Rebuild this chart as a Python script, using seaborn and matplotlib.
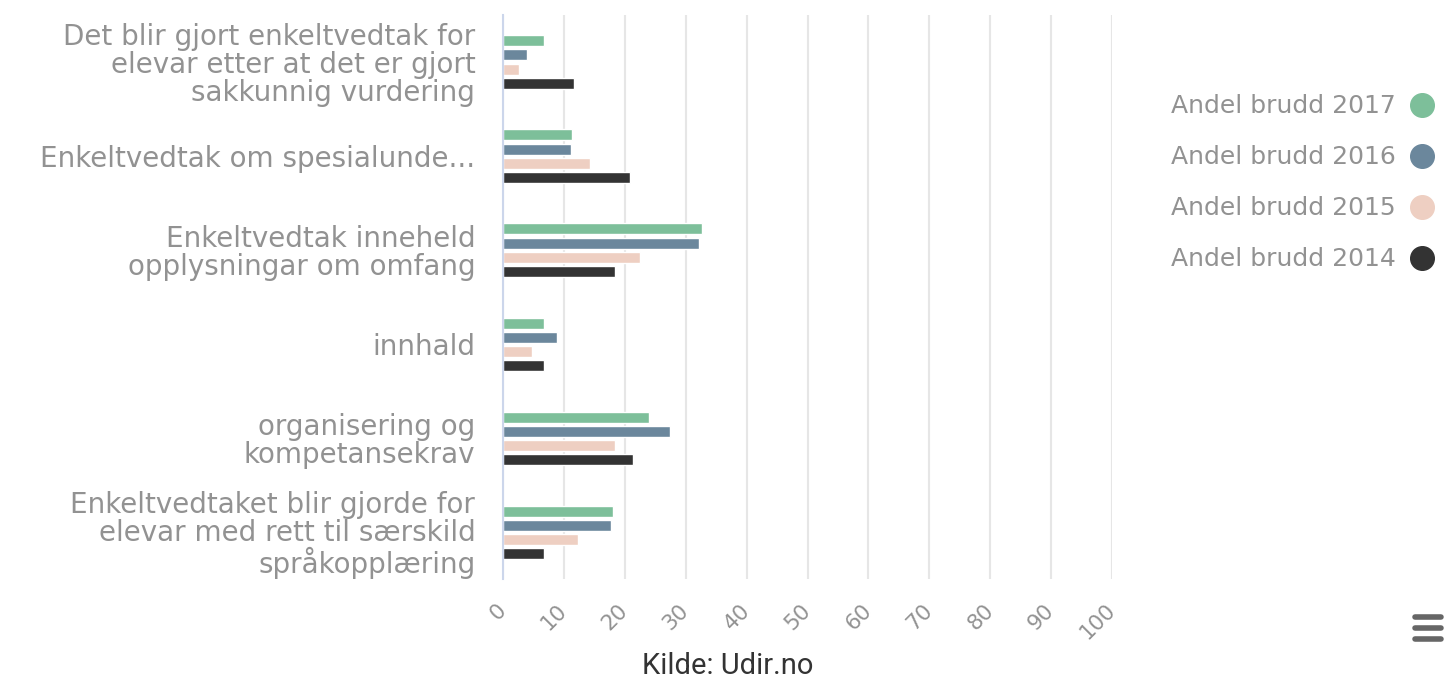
import pandas as pd
import matplotlib.pyplot as plt
import seaborn as sns
from matplotlib.lines import Line2D

# ── Data ─────────────────────────────────────────────────
kategorier = [
    "Det blir gjort enkeltvedtak for\nelevar etter at det er gjort\nsakkunnig vurdering",
    "Enkeltvedtak om spesialunde...",
    "Enkeltvedtak inneheld\nopplysningar om omfang",
    "innhald",
    "organisering og\nkompetansekrav",
    "Enkeltvedtaket blir gjorde for\nelevar med rett til særskild\nspråkopplæring",
]
serier = ["Andel brudd 2017", "Andel brudd 2016", "Andel brudd 2015", "Andel brudd 2014"]
brudd_2017 = [6.8, 11.3, 32.7, 6.8, 23.9, 18.1]
brudd_2016 = [4.0, 11.2, 32.2, 8.9, 27.4, 17.8]
brudd_2015 = [2.6, 14.2, 22.5, 4.8, 18.3, 12.3]
brudd_2014 = [11.7, 20.9, 18.4, 6.8, 21.4, 6.8]
x_ticks = [0, 10, 20, 30, 40, 50, 60, 70, 80, 90, 100]

farger = ["#7dbf9a", "#6b879c", "#eecfc2", "#333333"]
tekstfarge = "#929292"

rows = []
for serie, verdier in zip(serier, [brudd_2017, brudd_2016, brudd_2015, brudd_2014]):
    for kat, v in zip(kategorier, verdier):
        rows.append({"kategori": kat, "serie": serie, "verdi": v})
df = pd.DataFrame(rows)

# ── Figure ───────────────────────────────────────────────
sns.set_style("white")
plt.rcParams["font.family"] = ["DejaVu Sans"]

fig = plt.figure(figsize=(14.56, 6.8), dpi=100)
ax = fig.add_axes([0.3455, 0.148, 0.4183, 0.83])

sns.barplot(
    data=df, y="kategori", x="verdi", hue="serie", orient="h",
    palette=farger, width=0.6, gap=0.22, order=kategorier,
    hue_order=serier, legend=False, ax=ax, saturation=1,
)

ax.set_xlim(0, 100)
ax.set_ylim(5.5, -0.5)
ax.set_xticks(x_ticks)
ax.set_xticklabels([str(t) for t in x_ticks], rotation=45, ha="right",
                   va="center", rotation_mode="anchor", color=tekstfarge,
                   fontsize=15.5)
ax.tick_params(axis="x", length=0, pad=20)
ax.tick_params(axis="y", length=0, pad=20, labelsize=20, labelcolor=tekstfarge)
for lbl in ax.get_yticklabels():
    lbl.set_multialignment("right")
    lbl.set_linespacing(1.0)
ax.set_xlabel("")
ax.set_ylabel("")
ax.xaxis.grid(True, color="#e6e6e6", linewidth=1.5)
ax.set_axisbelow(True)
for s in ["top", "right", "bottom"]:
    ax.spines[s].set_visible(False)
ax.spines["left"].set_color("#ccd6eb")
ax.spines["left"].set_linewidth(1.5)

# ── Legend ───────────────────────────────────────────────
handles = [Line2D([], [], marker="o", linestyle="", markersize=17,
                  markerfacecolor=c, markeredgecolor=c) for c in farger]
fig.legend(handles, serier, loc="upper right", bbox_to_anchor=(0.9918, 0.876),
           frameon=False, markerfirst=False, fontsize=18, borderaxespad=0,
           labelcolor=tekstfarge, labelspacing=1.08, handletextpad=0.54,
           handlelength=1.0)

fig.text(0.5, 0.0, "Kilde: Udir.no", ha="center", va="bottom",
         fontsize=21, color="#333333", family="Roboto")

# menu icon
for yy in [0.092, 0.076, 0.060]:
    fig.add_artist(Line2D([0.9715, 0.9895], [yy, yy], transform=fig.transFigure,
                          color="#666666", linewidth=4, solid_capstyle="round"))

plt.savefig("out.png", dpi=100)
plt.close()
